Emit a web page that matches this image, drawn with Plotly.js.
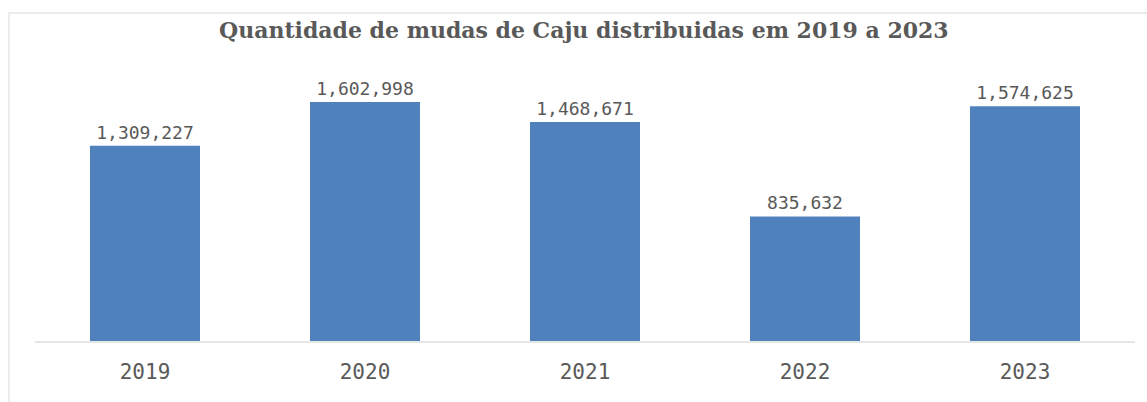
<!DOCTYPE html>
<html>
<head>
<meta charset="utf-8">
<script src="https://cdn.plot.ly/plotly-3.0.1.min.js"></script>
<style>
  html, body { margin: 0; padding: 0; background: #fff; }
  #wrap { position: relative; width: 1147px; height: 402px; overflow: hidden; }
  #frame { position: absolute; left: 8px; top: 12px; width: 1150px; height: 400px; border: 2px solid #ececec; box-sizing: border-box; pointer-events: none; }
  #chart { position: absolute; left: 0; top: 0; width: 1147px; height: 402px; }
</style>
</head>
<body>
<div id="wrap">
  <div id="chart"></div>
  <div id="frame"></div>
</div>
<script>
const years = ["2019", "2020", "2021", "2022", "2023"];
const mudas = [1309227, 1602998, 1468671, 835632, 1574625];
const chartTitle = "Quantidade de mudas de Caju distribuidas em 2019 a 2023";

const labels = mudas.map(v => v.toLocaleString("en-US"));

Plotly.newPlot("chart", [{
  type: "bar",
  x: years,
  y: mudas,
  text: labels,
  textposition: "outside",
  cliponaxis: false,
  textfont: { family: "DejaVu Sans Mono", size: 18, color: "#595959" },
  marker: { color: "#4f81bd", line: { width: 0 } },
  hoverinfo: "none"
}], {
  width: 1147,
  height: 402,
  margin: { l: 35, r: 12, t: 55, b: 61, pad: 0 },
  paper_bgcolor: "rgba(0,0,0,0)",
  plot_bgcolor: "#fff",
  bargap: 0.5,
  showlegend: false,
  title: {
    text: "<b>" + chartTitle + "</b>",
    font: { family: "DejaVu Serif", size: 22, color: "#595959" },
    x: 0.509, xanchor: "center",
    y: 0.925, yanchor: "middle"
  },
  xaxis: {
    type: "category",
    showline: true,
    linecolor: "#e6e6e6",
    linewidth: 2,
    ticks: "",
    showgrid: false,
    zeroline: false,
    tickfont: { family: "DejaVu Sans Mono", size: 21, color: "#595959" },
    ticklabelstandoff: 11
  },
  yaxis: {
    range: [0, 1918000],
    visible: false,
    showgrid: false,
    zeroline: false,
    fixedrange: true
  }
}, { displayModeBar: false, staticPlot: true });
</script>
</body>
</html>
